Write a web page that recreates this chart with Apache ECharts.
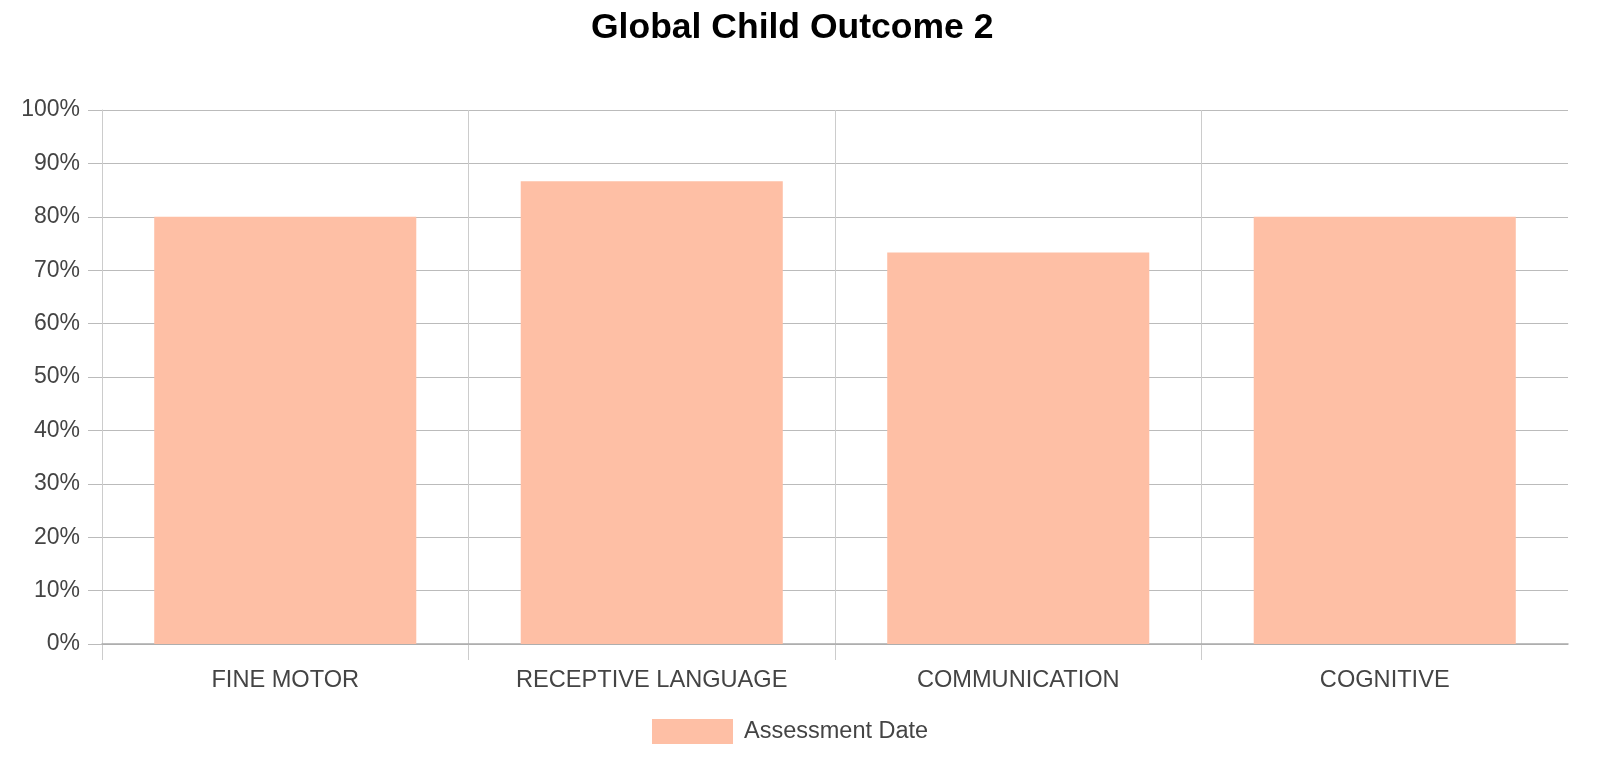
<!DOCTYPE html>
<html>
<head>
<meta charset="utf-8">
<style>
html,body{margin:0;padding:0;background:#fff;}
#chart{width:1600px;height:766px;}
</style>
<script src="https://cdn.jsdelivr.net/npm/echarts@6/dist/echarts.min.js"></script>
</head>
<body>
<div id="chart"></div>
<script>
const titleText = 'Global Child Outcome 2';
const categories = ['FINE MOTOR', 'RECEPTIVE LANGUAGE', 'COMMUNICATION', 'COGNITIVE'];
const seriesName = 'Assessment Date';
const values = [80, 86.67, 73.33, 80];
const yTicks = {min: 0, max: 100, interval: 10};

const chart = echarts.init(document.getElementById('chart'));
const plotLeft = 102, plotRight = 32, plotTop = 110, plotBottom = 122;
const bandW = (1600 - plotLeft - plotRight) / categories.length;

chart.setOption({
  animation: false,
  backgroundColor: '#ffffff',
  textStyle: {fontFamily: 'Liberation Sans, Arial, sans-serif'},
  title: {
    text: titleText,
    left: 586,
    top: 5,
    textStyle: {fontSize: 35.5, fontWeight: 'bold', color: '#000', fontFamily: 'Liberation Sans, Arial, sans-serif'}
  },
  legend: {
    data: [seriesName],
    left: 652,
    top: 719,
    padding: 0,
    itemWidth: 81,
    itemHeight: 25,
    icon: 'rect',
    textStyle: {fontSize: 23.5, color: '#444', padding: [0, 0, 0, 6]}
  },
  grid: [
    {left: plotLeft, right: plotRight, top: plotTop, bottom: plotBottom, containLabel: false},
    {left: plotLeft, right: 1600 - plotLeft - bandW * (categories.length - 1), top: 766 - plotBottom, height: 16, containLabel: false}
  ],
  xAxis: [{
    type: 'category',
    data: categories,
    boundaryGap: true,
    axisLine: {show: true, lineStyle: {color: '#aaa', width: 1.5}},
    axisTick: {show: false},
    axisLabel: {fontSize: 23.6, color: '#444', margin: 24},
    splitLine: {show: true, showMaxLine: false, lineStyle: {color: '#ccc'}}
  }, {
    type: 'value',
    gridIndex: 1,
    min: 0,
    max: categories.length - 1,
    interval: 1,
    axisLine: {show: false},
    axisTick: {show: false},
    axisLabel: {show: false},
    splitLine: {show: true, lineStyle: {color: '#ccc'}}
  }],
  yAxis: [{
    type: 'value',
    min: yTicks.min,
    max: yTicks.max,
    interval: yTicks.interval,
    axisLine: {show: true, lineStyle: {color: '#ccc'}},
    axisTick: {show: true, length: 14, lineStyle: {color: '#bbb'}},
    axisLabel: {fontSize: 23, color: '#444', margin: 22, formatter: '{value}%'},
    splitLine: {show: true, lineStyle: {color: '#bbb'}}
  }, {
    type: 'value',
    gridIndex: 1,
    show: false
  }],
  series: [{
    name: seriesName,
    type: 'bar',
    data: values,
    barWidth: '71.5%',
    itemStyle: {color: '#FEBFA5'}
  }]
});
</script>
</body>
</html>
